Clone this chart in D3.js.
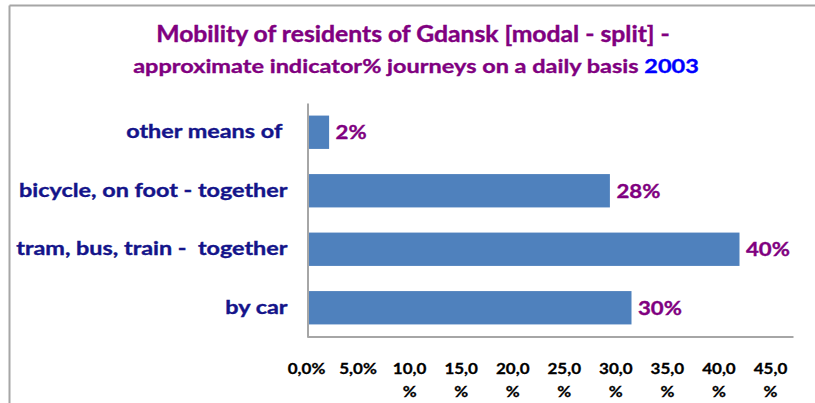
<!DOCTYPE html>
<html><head><meta charset="utf-8">
<script src="https://cdn.jsdelivr.net/npm/d3@7"></script>
<style>
body{margin:0;background:#fff;}
svg{display:block;font-family:Lato,"Noto Sans",sans-serif;}
</style></head>
<body><svg id="chart" width="815" height="403"></svg>
<script>
const categories = ["other means of ", "bicycle, on foot - together", "tram, bus, train -  together", "by car"];
const values = [2, 28, 40, 30];
const valueLabels = ["2%", "28%", "40%", "30%"];
const tickValues = [0, 5, 10, 15, 20, 25, 30, 35, 40, 45];
const tickLabels = [["0,0%"], ["5,0%"], ["10,0", "%"], ["15,0", "%"], ["20,0", "%"], ["25,0", "%"], ["30,0", "%"], ["35,0", "%"], ["40,0", "%"], ["45,0", "%"]];
const titleLine1 = "Mobility of residents of Gdansk [modal - split] -";
const titleLine2a = "approximate indicator% journeys on a daily basis ";
const titleLine2b = "2003";

const svg = d3.select("#chart");
const pLeft = 307.5, pRight = 793.5, pTop = 103, pBottom = 337;

// horizontal stretch helper (reference text is wider than the available fonts)
function stretch(sel, sx, ax) {
  sel.attr("transform", `translate(${ax},0) scale(${sx},1) translate(${-ax},0)`);
}

// frame
svg.append("line").attr("x1", 9.5).attr("x2", 815).attr("y1", 5.5).attr("y2", 5.5).attr("stroke", "#a6a6a6").attr("stroke-width", 2);
svg.append("line").attr("x1", 9.5).attr("x2", 9.5).attr("y1", 5.5).attr("y2", 403).attr("stroke", "#a6a6a6").attr("stroke-width", 2);

// title
const t1 = svg.append("text").attr("x", 413).attr("y", 42).attr("text-anchor", "middle")
  .attr("font-size", 22).attr("font-weight", "bold").attr("fill", "#800080")
  .attr("stroke", "#800080").attr("stroke-width", 0.4).text(titleLine1);
stretch(t1, 514 / t1.node().getBBox().width, 413);
const t2 = svg.append("text").attr("x", 416).attr("y", 73).attr("text-anchor", "middle")
  .attr("font-size", 19.5).attr("font-weight", "bold").attr("fill", "#800080")
  .attr("stroke", "#800080").attr("stroke-width", 0.35);
t2.append("tspan").text(titleLine2a);
t2.append("tspan").attr("fill", "#0000ff").attr("stroke", "#0000ff").text(titleLine2b);
stretch(t2, 566 / t2.node().getBBox().width, 416);

const x = d3.scaleLinear().domain([0, 45]).range([pLeft, pRight]);
const xLab = d3.scaleLinear().domain([0, 45]).range([306, 770]);
const y = d3.scaleBand().domain(categories).range([pTop, pBottom]).paddingInner(0.43).paddingOuter(0.215);

// bars
svg.append("g").selectAll("rect").data(values).join("rect")
  .attr("x", x(0)).attr("y", (d, i) => y(categories[i]))
  .attr("width", d => x(d) - x(0)).attr("height", y.bandwidth())
  .attr("fill", "#4f81bd");

// value labels
const vl = svg.append("g").selectAll("text").data(values).join("text")
  .attr("x", d => x(d) + 6.5).attr("y", (d, i) => y(categories[i]) + y.bandwidth() / 2)
  .attr("dy", "0.36em").attr("font-size", 19.5).attr("font-weight", "bold").attr("fill", "#800080")
  .attr("stroke", "#800080").attr("stroke-width", 0.35)
  .text((d, i) => valueLabels[i]);
const vsx = 44 / vl.nodes()[1].getBBox().width;
vl.each(function(d) { stretch(d3.select(this), vsx, x(d) + 6.5); });

// category axis
const yAxis = svg.append("g").attr("transform", `translate(${pLeft},0)`)
  .call(d3.axisLeft(y).tickSize(0).tickPadding(20));
yAxis.select(".domain").attr("stroke", "#a6a6a6").attr("stroke-width", 2);
const cl = yAxis.selectAll("text").attr("font-size", 18).attr("font-weight", "bold").attr("fill", "#14148a")
  .attr("stroke", "#14148a").attr("stroke-width", 0.35)
  .attr("font-family", "Lato, sans-serif").style("white-space", "pre");
const csx = 269 / cl.nodes()[1].getBBox().width;
cl.each(function() { stretch(d3.select(this), csx, -20); });

// value axis line
svg.append("line").attr("x1", pLeft).attr("x2", pRight).attr("y1", pBottom).attr("y2", pBottom)
  .attr("stroke", "#a6a6a6").attr("stroke-width", 2);

// tick labels
const xAxis = svg.append("g").attr("transform", `translate(0,${pBottom})`)
  .call(d3.axisBottom(xLab).tickValues(tickValues).tickSize(0).tickFormat(""));
xAxis.select(".domain").remove();
const tl = [];
xAxis.selectAll(".tick").each(function(d, i) {
  const t = d3.select(this).append("text").attr("fill", "#000").attr("font-size", 15.5)
    .attr("stroke", "#000").attr("stroke-width", 0.3)
    .attr("font-weight", "bold").attr("text-anchor", "middle").attr("font-family", "Lato, sans-serif");
  tickLabels[i].forEach((s, k) => t.append("tspan").attr("x", 0).attr("y", 37 + k * 23).text(s));
  tl.push(t);
});
const tsx = 38 / tl[0].node().getBBox().width;
tl.forEach(t => stretch(t, tsx, 0));
</script></body></html>
